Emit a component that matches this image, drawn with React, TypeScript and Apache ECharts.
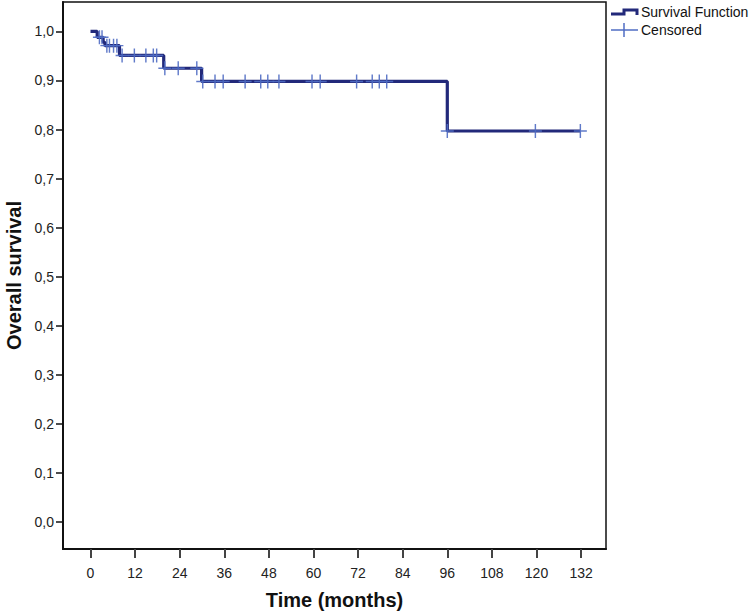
import React, { useEffect, useRef } from "react";
import * as echarts from "echarts";

// Kaplan-Meier step points (time in months, survival)
const eventTimes = [0, 1.8, 3.4, 3.9, 7.8, 19.7, 29.9, 96, 131.8];
const survival = [1.0, 0.988, 0.978, 0.971, 0.951, 0.925, 0.898, 0.797, 0.797];

// Censored observation times
const censorTimes = [
  2.4, 3.1, 4.4, 5.1, 6.2, 7.1, 8.5, 11.8, 14.9, 16.9, 17.8, 20.0, 23.6, 28.6,
  30.2, 33.5, 35.7, 41.6, 45.8, 47.7, 50.7, 59.6, 61.8, 71.6, 75.8, 77.7, 79.7,
  96, 119.7, 131.8,
];

const xTicks = [0, 12, 24, 36, 48, 60, 72, 84, 96, 108, 120, 132];
const yTicks = [0, 0.1, 0.2, 0.3, 0.4, 0.5, 0.6, 0.7, 0.8, 0.9, 1.0];

const NAVY = "#22297A";
const BLUE = "#4F6CC3";
const FONT = "Arial, 'Liberation Sans', sans-serif";

function survivalAt(t: number): number {
  let s = survival[0];
  for (let i = 0; i < eventTimes.length; i++) {
    if (eventTimes[i] <= t) s = survival[i];
  }
  return s;
}

const CROSS =
  "path://M-0.11,-1 L0.11,-1 L0.11,1 L-0.11,1 Z M-1,-0.1 L1,-0.1 L1,0.1 L-1,0.1 Z";

export default function App() {
  const ref = useRef<HTMLDivElement>(null);

  useEffect(() => {
    if (!ref.current) return;
    const chart = echarts.init(ref.current, null, { renderer: "svg" });
    const stepData = eventTimes.map((t, i) => [t, survival[i]]);
    const censorData = censorTimes.map((t) => [t, survivalAt(t)]);

    chart.setOption({
      animation: false,
      backgroundColor: "#ffffff",
      grid: {
        left: 63,
        right: 144,
        top: 2,
        bottom: 63,
        containLabel: false,
        outerBoundsMode: "none",
        show: true,
        borderColor: "#111",
        borderWidth: 1.5,
        backgroundColor: "transparent",
      },
      xAxis: {
        type: "value",
        min: -7.4,
        max: 138.7,
        name: "Time (months)",
        nameLocation: "middle",
        nameGap: 41,
        nameTextStyle: {
          fontFamily: FONT,
          fontWeight: "bold",
          fontSize: 20,
          color: "#111",
        },
        axisLine: { show: true, onZero: false, lineStyle: { color: "#111", width: 2 } },
        axisTick: {
          show: true,
          customValues: xTicks,
          length: 9,
          lineStyle: { color: "#444", width: 2 },
        },
        axisLabel: {
          customValues: xTicks,
          margin: 17,
          fontFamily: FONT,
          fontSize: 14,
          color: "#222",
          formatter: (v: number) => String(Math.round(v)),
        },
        splitLine: { show: false },
      },
      yAxis: {
        type: "value",
        min: -0.055,
        max: 1.06,
        name: "Overall survival",
        nameLocation: "middle",
        nameGap: 39,
        nameRotate: 90,
        nameTextStyle: {
          fontFamily: FONT,
          fontWeight: "bold",
          fontSize: 20,
          color: "#111",
        },
        axisLine: { show: true, onZero: false, lineStyle: { color: "#111", width: 2 } },
        axisTick: {
          show: true,
          customValues: yTicks,
          length: 7,
          lineStyle: { color: "#111", width: 1.5 },
        },
        axisLabel: {
          customValues: yTicks,
          margin: 9,
          fontFamily: FONT,
          fontSize: 14,
          color: "#222",
          formatter: (v: number) => v.toFixed(1).replace(".", ","),
        },
        splitLine: { show: false },
      },
      series: [
        {
          name: "Survival Function",
          type: "line",
          step: "end",
          data: stepData,
          showSymbol: false,
          lineStyle: { color: NAVY, width: 3.2 },
          itemStyle: { color: NAVY },
          z: 2,
        },
        {
          name: "Censored",
          type: "scatter",
          data: censorData,
          symbol: CROSS,
          symbolSize: [13, 14],
          itemStyle: { color: BLUE, opacity: 0.9 },
          z: 3,
        },
      ],
      graphic: [
        {
          type: "polyline",
          shape: {
            points: [
              [611, 14],
              [624, 14],
              [624, 10],
              [637, 10],
              [637, 15],
            ],
          },
          style: { stroke: NAVY, lineWidth: 3, fill: "none" },
        },
        {
          type: "text",
          x: 641,
          y: 12,
          style: {
            text: "Survival Function",
            font: "14px " + FONT,
            fill: "#111",
            verticalAlign: "middle",
          },
        },
        {
          type: "line",
          shape: { x1: 611, y1: 30, x2: 638, y2: 30 },
          style: { stroke: BLUE, lineWidth: 1.5 },
        },
        {
          type: "line",
          shape: { x1: 624, y1: 23, x2: 624, y2: 37 },
          style: { stroke: BLUE, lineWidth: 1.5 },
        },
        {
          type: "text",
          x: 641,
          y: 30,
          style: {
            text: "Censored",
            font: "14px " + FONT,
            fill: "#111",
            verticalAlign: "middle",
          },
        },
      ],
    });

    return () => chart.dispose();
  }, []);

  return (
    <div
      ref={ref}
      style={{ position: "fixed", left: 0, top: 0, width: 750, height: 612 }}
    />
  );
}
